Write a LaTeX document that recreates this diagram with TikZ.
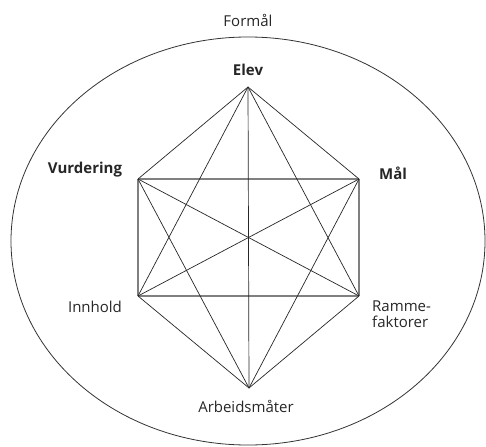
\documentclass[tikz,border=0pt]{standalone}
\usepackage{fontspec}
\usetikzlibrary{shapes.geometric}
\setmainfont{Open Sans}
\begin{document}
\begin{tikzpicture}[x=1pt,y=-1pt,
  lbl/.style={inner sep=0pt,font=\fontsize{15}{16}\selectfont,text=black!85},
  bl/.style={lbl,font=\fontsize{15}{16}\selectfont\bfseries},
  edge/.style={draw=black!85,line width=0.7pt},
  gedge/.style={draw=black!50,line width=1.4pt}]
\useasboundingbox (0,0) rectangle (486,446);
\node[draw=black!80,line width=0.8pt,ellipse,minimum width=474pt,minimum height=408pt,inner sep=0pt] (ring) at (248,241) {};
\coordinate (E) at (248,87);
\coordinate (V) at (138,179);
\coordinate (M) at (359,179);
\coordinate (I) at (138,296);
\coordinate (R) at (359,296);
\coordinate (A) at (249,388);
% grey frame lines
\draw[gedge] (V) -- (M);
\draw[gedge] (I) -- (R);
\draw[gedge] (V) -- (I);
\draw[gedge] (M) -- (R);
\draw[edge] (E) -- (A);
% thin lines
\draw[edge] (E) -- (V);
\draw[edge] (E) -- (M);
\draw[edge] (E) -- (I);
\draw[edge] (E) -- (R);
\draw[edge] (V) -- (R);
\draw[edge] (V) -- (A);
\draw[edge] (M) -- (I);
\draw[edge] (M) -- (A);
\draw[edge] (I) -- (A);
\draw[edge] (R) -- (A);
% labels
\node[lbl] (formal) at (248,20) {Formål};
\node[bl] (elev) at (248,70) {Elev};
\node[bl] (vurd) at (85,170) {Vurdering};
\node[bl] (mal) at (393,173) {Mål};
\node[lbl] (innh) at (95,307) {Innhold};
\node[lbl,align=left,anchor=west] (ramme) at (372,314) {Ramme-\\faktorer};
\node[lbl] (arb) at (246,406) {Arbeidsmåter};
\end{tikzpicture}
\end{document}
